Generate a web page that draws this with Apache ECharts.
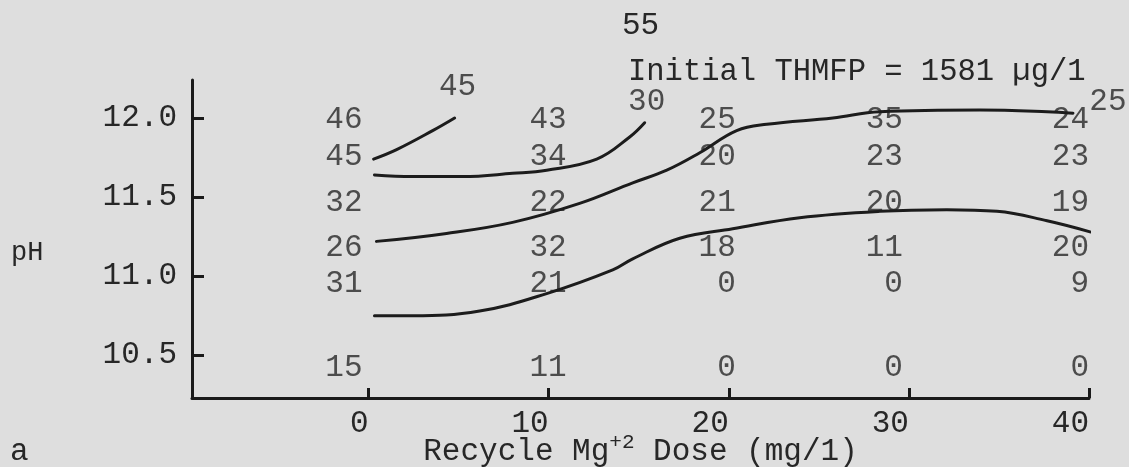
<!DOCTYPE html>
<html>
<head>
<meta charset="utf-8">
<script src="https://cdn.jsdelivr.net/npm/echarts@6.0.0/dist/echarts.min.js"></script>
<style>
  html, body { margin: 0; padding: 0; background: #dedede; }
  #chart { width: 1129px; height: 467px; }
</style>
</head>
<body>
<div id="chart"></div>
<script>
// Recycle Mg+2 dose (mg/l) columns and pH rows of the typed grid
const doses = [0, 10, 20, 30, 40];
const phRows = [12.0, 11.75, 11.5, 11.25, 11.0, 10.5];

// THMFP values typed at each grid point, one array per pH row
const row120 = [46, 43, 25, 35, 24];
const row1175 = [45, 34, 20, 23, 23];
const row115 = [32, 22, 21, 20, 19];
const row1125 = [26, 32, 18, 11, 20];
const row110 = [31, 21, 0, 0, 9];
const row105 = [15, 11, 0, 0, 0];
const gridRows = [row120, row1175, row115, row1125, row110, row105];

// hand drawn iso-lines [dose, pH]
const curve45 = [[0.28, 11.74], [1.56, 11.80], [3.56, 11.92], [4.78, 12.0]];
const curve30 = [[0.33, 11.64], [2.44, 11.63], [5.22, 11.63], [8.0, 11.65], [9.89, 11.67],
  [12.67, 11.74], [14.5, 11.88], [15.33, 11.97]];
const curve25 = [[0.44, 11.22], [4.33, 11.27], [8.0, 11.34], [11.72, 11.46], [14.67, 11.59],
  [16.56, 11.67], [18.39, 11.78], [20.44, 11.92], [22.11, 11.96], [25.78, 12.0],
  [28.39, 12.04], [33.94, 12.05], [37.67, 12.04], [39.11, 12.03]];
const curve20 = [[0.33, 10.75], [2.44, 10.75], [6.17, 10.78], [9.89, 10.89], [13.56, 11.04],
  [14.67, 11.11], [17.28, 11.24], [20.22, 11.30], [23.94, 11.37], [28.39, 11.41],
  [32.11, 11.42], [34.89, 11.41], [37.67, 11.35], [40.06, 11.28]];
const curves = [curve45, curve30, curve25, curve20];
const curveNames = ['45', '30', '25', '20'];

const xTicks = [0, 10, 20, 30, 40];
const yTicks = [10.5, 11.0, 11.5, 12.0];

// typewriter nudges (px), styling only
const colNudge = [-6, 18, 7, -6, 0];
const rowNudge = [2, -1, 6, 11, 8, 13];
const curveLabelNudge = [[3, -31], [2, -21], [35, -11], [19, -14]];

const FONT = 'Liberation Mono';
const INK = '#272727';

const gridData = [];
gridRows.forEach(function (row, r) {
  row.forEach(function (v, c) {
    gridData.push({
      value: [doses[c], phRows[r], v],
      label: { offset: [colNudge[c], rowNudge[r]] }
    });
  });
});

const lineSeries = curves.map(function (pts, i) {
  return {
    type: 'line',
    name: curveNames[i],
    data: pts,
    smooth: 0.4,
    showSymbol: false,
    silent: true,
    lineStyle: { color: '#1c1c1c', width: 3, cap: 'round' }
  };
});

const curveLabelData = curves.map(function (pts, i) {
  const end = pts[pts.length - 1];
  return {
    value: [end[0], end[1]],
    name: curveNames[i],
    label: { offset: curveLabelNudge[i] }
  };
});

const chart = echarts.init(document.getElementById('chart'));
chart.setOption({
  backgroundColor: '#dedede',
  animation: false,
  grid: { left: 192, right: 40, top: 80, bottom: 69, outerBoundsMode: 'none' },
  xAxis: {
    type: 'value',
    min: -9.8,
    max: 40,
    splitLine: { show: false },
    axisLine: { onZero: false, lineStyle: { color: '#1a1a1a', width: 3 } },
    axisTick: { customValues: xTicks, inside: true, length: 10, lineStyle: { color: '#1a1a1a', width: 3 } },
    axisLabel: {
      customValues: xTicks, align: 'right', margin: 10,
      fontFamily: FONT, fontSize: 31, color: INK
    },
    name: 'Recycle Mg{sup|+2} Dose (mg/1)',
    nameLocation: 'middle',
    nameGap: 34,
    nameMoveOverlap: false,
    nameTextStyle: {
      fontFamily: FONT, fontSize: 31, color: INK, lineHeight: 40,
      rich: { sup: { fontFamily: FONT, fontSize: 21, color: INK, lineHeight: 21, verticalAlign: 'top' } }
    }
  },
  yAxis: {
    type: 'value',
    min: 10.23,
    max: 12.24,
    splitLine: { show: false },
    axisLine: { onZero: false, lineStyle: { color: '#1a1a1a', width: 3 } },
    axisTick: { customValues: yTicks, inside: true, length: 12, lineStyle: { color: '#1a1a1a', width: 3 } },
    axisLabel: {
      customValues: yTicks, margin: 15,
      fontFamily: FONT, fontSize: 31, color: INK,
      formatter: function (v) { return v.toFixed(1); }
    }
  },
  graphic: [
    { type: 'text', left: 622, top: 10, style: { text: '55', font: '31px ' + FONT, fill: INK } },
    { type: 'text', left: 628, top: 56, style: { text: 'Initial THMFP = 1581 µg/1', font: '30.5px ' + FONT, fill: INK } },
    { type: 'text', left: 11, top: 239, style: { text: 'pH', font: '27px ' + FONT, fill: INK } },
    { type: 'text', left: 10, top: 436, style: { text: 'a', font: '31px ' + FONT, fill: INK } }
  ],
  series: lineSeries.concat([
    {
      type: 'scatter',
      name: 'grid values',
      data: gridData,
      symbolSize: 0,
      silent: true,
      label: {
        show: true, position: 'inside', align: 'right', verticalAlign: 'middle',
        fontFamily: FONT, fontSize: 31, color: INK,
        formatter: function (p) { return p.value[2]; }
      }
    },
    {
      type: 'scatter',
      name: 'curve labels',
      data: curveLabelData,
      symbolSize: 0,
      silent: true,
      label: {
        show: true, position: 'inside', align: 'center', verticalAlign: 'middle',
        fontFamily: FONT, fontSize: 31, color: INK,
        formatter: function (p) { return p.name; }
      }
    }
  ])
});
</script>
</body>
</html>
